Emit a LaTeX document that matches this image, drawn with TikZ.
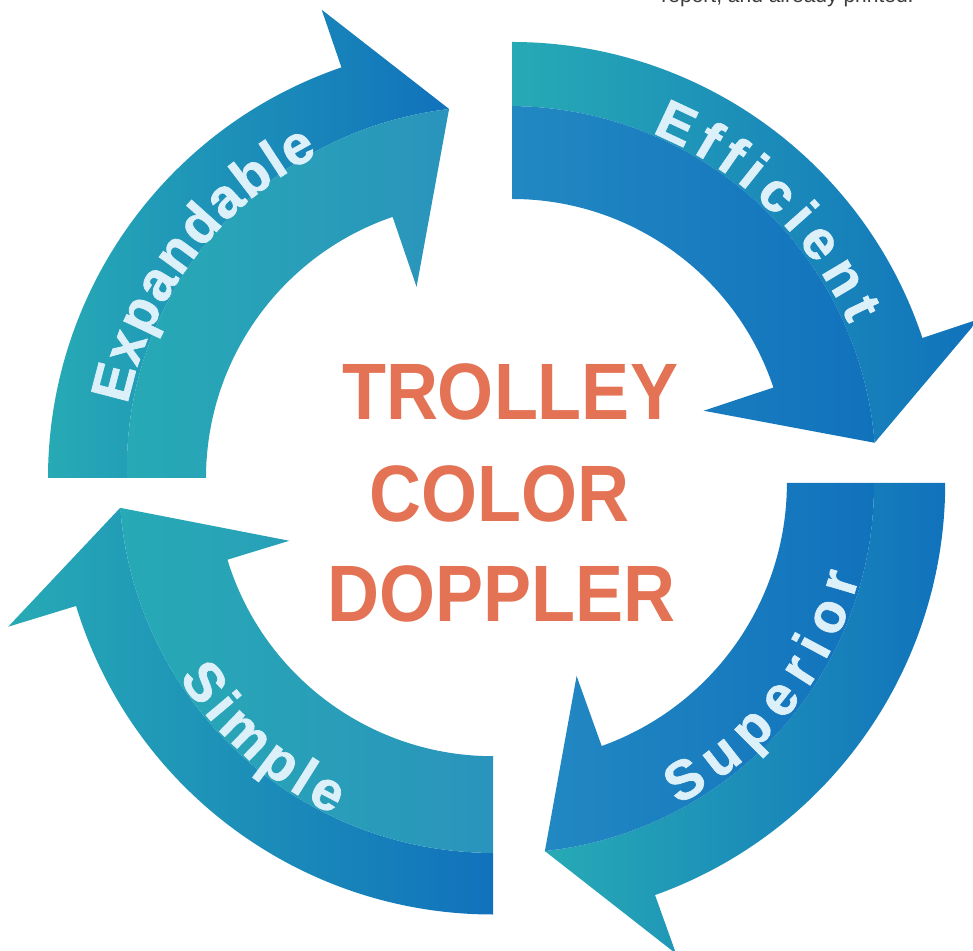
\documentclass[tikz,border=0pt]{standalone}
\usepackage{fontspec}
\setmainfont{Liberation Sans}
\newfontfamily\lblfont[BoldFeatures={FakeBold=1.3}]{Liberation Sans}
\definecolor{ateal}{RGB}{39,170,181}
\definecolor{ablue}{RGB}{17,114,188}
\definecolor{amid}{RGB}{34,136,194}
\definecolor{agreen}{RGB}{42,148,188}
\definecolor{lblc}{RGB}{220,240,250}
\definecolor{ttlc}{RGB}{227,115,84}
\definecolor{notec}{RGB}{60,60,60}
\tikzset{
  lbltxt/.style={inner sep=0pt, anchor=base, text=lblc, font=\lblfont\fontsize{55}{55}\selectfont\bfseries},
  ttltxt/.style={inner sep=0pt, anchor=base, text=ttlc, font=\fontsize{80}{80}\selectfont\bfseries, xscale=0.9},
}
\begin{document}
\begin{tikzpicture}[x=1pt,y=1pt]
\clip (0,0) rectangle (973,950);
\node[anchor=base, inner sep=0pt, text=notec, font=\fontsize{21}{21}\selectfont] (note) at (787.5,947.5) {report, and already printed.};

% Efficient
\begin{scope}[shift={(512,475.5)}]
\path[left color=ateal, right color=ablue] (90:432.5) arc[start angle=90,end angle=18.4,radius=432.5] -- (18.4:492) -- (5:364) -- plot[domain=5:90,samples=40] (\x:{364+(368.5-364)*(\x-5)/85}) -- cycle;
\path[left color=amid, right color=ablue] (90:275.5) arc[start angle=90,end angle=18.4,radius=275.5] -- (18.4:202) -- (5:364) -- plot[domain=5:90,samples=40] (\x:{364+(368.5-364)*(\x-5)/85}) -- cycle;
\foreach \ch/\s [count=\i] in {E/0,f/35.5,f/62.0,i/87.0,c/118.0,i/149.0,e/180.0,n/220.0,t/254.0}
  \node[lbltxt, rotate={64.9-\s*0.15527-90}] (ef\i) at ({64.9-\s*0.15527}:369) {\ch};
\end{scope}

% Expandable
\begin{scope}[shift={(482,472)}]
\path[left color=ateal, right color=ablue] (180:434) arc[start angle=180,end angle=108.9,radius=434] -- (108.9:495) -- (95.1:370.5) -- plot[domain=95.1:180,samples=40] (\x:{370.5+(355-370.5)*(\x-95.1)/84.9}) -- cycle;
\path[left color=ateal, right color=agreen] (180:276) arc[start angle=180,end angle=108.9,radius=276] -- (108.9:202) -- (95.1:370.5) -- plot[domain=95.1:180,samples=40] (\x:{370.5+(355-370.5)*(\x-95.1)/84.9}) -- cycle;
\foreach \ch/\s [count=\i] in {E/0,x/35.4,p/69.3,a/103.2,n/137.1,d/172.5,a/206.4,b/240.3,l/266.7,e/291.6}
  \node[lbltxt, rotate={165.4-\s*0.15828-90}] (ex\i) at ({165.4-\s*0.15828}:362) {\ch};
\end{scope}

% Simple
\begin{scope}[shift={(493,471.5)}]
\path[left color=ateal, right color=ablue] (270:436) arc[start angle=270,end angle=197,radius=436] -- (197:507) -- (184.5:374) -- plot[domain=184.5:270,samples=40] (\x:{374+(374.5-374)*(\x-184.5)/85.5}) -- cycle;
\path[left color=ateal, right color=agreen] (270:277.7) arc[start angle=270,end angle=197,radius=277.7] -- (197:213) -- (184.5:374) -- plot[domain=184.5:270,samples=40] (\x:{374+(374.5-374)*(\x-184.5)/85.5}) -- cycle;
\foreach \ch/\s [count=\i] in {S/0,i/31.8,m/69.6,p/116.4,l/146.7,e/175.5}
  \node[lbltxt, rotate={215.2+\s*0.15402+90}] (si\i) at ({215.2+\s*0.15402}:372) {\ch};
\end{scope}

% Superior
\begin{scope}[shift={(507.5,467)}]
\path[left color=ateal, right color=ablue] (0:437.7) arc[start angle=0,end angle=-70.3,radius=437.7] -- (-70.3:500) -- (-84.2:370) -- plot[domain=-84.2:0,samples=40] (\x:{370+(366.5-370)*(\x+84.2)/84.2}) -- cycle;
\path[left color=amid, right color=ablue] (0:279.4) arc[start angle=0,end angle=-70.3,radius=279.4] -- (-70.3:205) -- (-84.2:370) -- plot[domain=-84.2:0,samples=40] (\x:{370+(366.5-370)*(\x+84.2)/84.2}) -- cycle;
\foreach \ch/\s [count=\i] in {S/0,u/45.5,p/89.5,e/132.0,r/168.5,i/197.5,o/232.5,r/270.5}
  \node[lbltxt, rotate={-59.2+\s*0.15741+90}] (su\i) at ({-59.2+\s*0.15741}:364) {\ch};
\end{scope}

% centre title
\node[ttltxt] (t1) at (510,530) {TROLLEY};
\node[ttltxt] (t2) at (499.5,428) {COLOR};
\node[ttltxt] (t3) at (501.5,328) {DOPPLER};
\end{tikzpicture}
\end{document}
